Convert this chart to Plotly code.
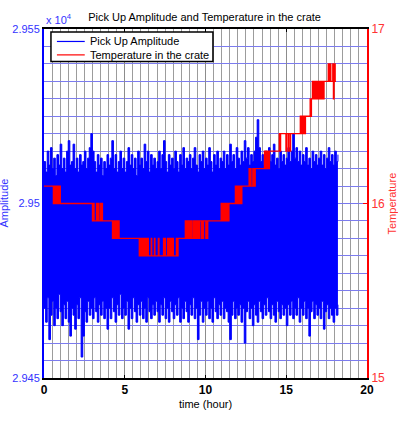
import numpy as np
import plotly.graph_objects as go

# ---------------- data ----------------
title_text = "Pick Up Amplitude and Temperature in the crate"
amp_name = "Pick Up Amplitude"
temp_name = "Temperature in the crate"

sample_step = 0.1  # hours between envelope samples
amp_hi = [
    29512, 29509, 29515, 29511, 29516, 29510, 29513, 29508, 29514, 29511,
    29517, 29510, 29513, 29509, 29515, 29518, 29511, 29512, 29517, 29510,
    29513, 29509, 29514, 29511, 29512, 29515, 29510, 29513, 29516, 29520,
    29515, 29512, 29509, 29514, 29511, 29513, 29508, 29512, 29510, 29514,
    29511, 29513, 29518, 29510, 29514, 29509, 29512, 29515, 29510, 29513,
    29509, 29512, 29516, 29511, 29514, 29510, 29513, 29508, 29515, 29511,
    29513, 29510, 29517, 29512, 29515, 29509, 29514, 29511, 29513, 29510,
    29512, 29515, 29510, 29514, 29518, 29512, 29509, 29514, 29511, 29513,
    29510, 29515, 29512, 29509, 29514, 29511, 29516, 29510, 29513, 29512,
    29514, 29510, 29513, 29516, 29511, 29509, 29514, 29512, 29515, 29510,
    29513, 29511, 29516, 29512, 29509, 29514, 29511, 29515, 29510, 29513,
    29512, 29515, 29510, 29514, 29511, 29517, 29512, 29514, 29510, 29516,
    29513, 29511, 29515, 29512, 29518, 29513, 29516, 29511, 29514, 29512,
    29515, 29519, 29524, 29516, 29512, 29514, 29511, 29515, 29513, 29516,
    29512, 29514, 29517, 29511, 29513, 29510, 29515, 29512, 29514, 29511,
    29513, 29516, 29512, 29515, 29520, 29513, 29516, 29512, 29515, 29511,
    29514, 29512, 29516, 29511, 29513, 29510, 29515, 29512, 29514, 29511,
    29513, 29515, 29511, 29514, 29510, 29513, 29516, 29512, 29514, 29511,
    29515, 29512, 29514,
]
amp_lo = [
    29470, 29466, 29473, 29461, 29468, 29472, 29465, 29470, 29467, 29474,
    29469, 29465, 29471, 29467, 29472, 29466, 29462, 29470, 29468, 29464,
    29471, 29467, 29473, 29456, 29462, 29469, 29466, 29472, 29468, 29470,
    29467, 29473, 29469, 29466, 29471, 29468, 29472, 29467, 29470, 29464,
    29470, 29467, 29473, 29469, 29466, 29471, 29468, 29474, 29467, 29470,
    29468, 29472, 29464, 29470, 29467, 29473, 29469, 29466, 29471, 29468,
    29472, 29467, 29470, 29466, 29473, 29469, 29467, 29471, 29468, 29472,
    29469, 29466, 29471, 29468, 29473, 29467, 29470, 29466, 29472, 29469,
    29467, 29471, 29468, 29473, 29466, 29470, 29467, 29472, 29469, 29466,
    29471, 29468, 29473, 29467, 29470, 29461, 29468, 29472, 29466, 29470,
    29468, 29472, 29467, 29470, 29466, 29473, 29469, 29467, 29471, 29468,
    29472, 29467, 29470, 29469, 29466, 29461, 29468, 29472, 29467, 29470,
    29468, 29471, 29466, 29470, 29460, 29469, 29472, 29467, 29470, 29465,
    29471, 29468, 29466, 29472, 29469, 29467, 29471, 29468, 29473, 29469,
    29467, 29471, 29468, 29466, 29472, 29469, 29467, 29471, 29468, 29470,
    29465, 29471, 29468, 29472, 29467, 29470, 29468, 29473, 29466, 29470,
    29468, 29472, 29467, 29470, 29462, 29469, 29472, 29467, 29471, 29468,
    29470, 29467, 29472, 29464, 29469, 29471, 29467, 29470, 29468, 29466,
    29470, 29468, 29471,
]

temp_t = [
    0.00, 0.58, 0.62, 0.66, 0.70, 0.74, 0.78, 0.83, 0.89, 0.93, 0.97, 1.01,
    3.00, 3.05, 3.10, 3.25, 3.30, 3.36, 3.40, 3.50, 3.55, 3.58, 3.62,
    4.24, 4.28, 4.32, 4.36, 4.40, 4.44, 4.48, 4.52, 4.56, 4.60, 4.65,
    5.90, 5.94, 5.98, 6.02, 6.06, 6.10, 6.14, 6.18, 6.22, 6.26, 6.30, 6.34,
    6.38, 6.42, 6.46, 6.64, 6.67, 6.84, 6.87, 7.08, 7.12, 7.40, 7.44, 7.48,
    7.52, 7.65, 7.69, 7.73, 7.77, 7.81, 7.85, 7.89, 7.93, 7.97, 8.01, 8.20,
    8.23, 8.30,
    8.75, 8.79, 8.86, 8.90, 8.94, 8.97, 9.05, 9.09, 9.13, 9.16, 9.25, 9.29,
    9.33, 9.37, 9.41, 9.45, 9.49, 9.53, 9.57, 9.61, 9.65, 9.76, 9.80, 9.84,
    9.88, 10.02, 10.06, 10.10, 10.14,
    10.97, 11.01, 11.05, 11.09, 11.13, 11.17, 11.21, 11.25, 11.29, 11.33,
    11.37, 11.41, 11.45,
    11.85, 11.89, 11.93, 11.97, 12.01, 12.05, 12.09, 12.13, 12.17, 12.21, 12.25,
    12.70, 12.74, 12.78, 12.82, 12.93, 12.97, 13.01, 13.05, 13.08,
    13.65, 13.69, 13.73, 13.77, 13.81, 13.85, 13.89, 13.93, 13.96,
    14.57, 14.61, 14.65, 14.98, 15.01, 15.11, 15.14, 15.23, 15.27,
    15.87, 15.91, 15.95, 15.99, 16.03, 16.07, 16.11, 16.15, 16.19,
    16.48, 16.52, 16.56, 16.62, 16.66, 16.72, 16.78, 16.82, 16.88, 16.92,
    16.98, 17.02, 17.08, 17.12, 17.18, 17.22, 17.30, 17.34,
    17.60, 17.64, 17.72, 17.76, 17.88, 17.92, 17.96, 18.03, 18.08,
]
temp_v = [
    16.1, 16.0, 16.1, 16.0, 16.1, 16.0, 16.1, 16.0, 16.1, 16.0, 16.1, 16.0,
    15.9, 16.0, 15.9, 16.0, 15.9, 16.0, 15.9, 16.0, 15.9, 16.0, 15.9,
    15.8, 15.9, 15.8, 15.9, 15.8, 15.9, 15.8, 15.9, 15.8, 15.9, 15.8,
    15.7, 15.8, 15.7, 15.8, 15.7, 15.8, 15.7, 15.8, 15.7, 15.8, 15.7, 15.8,
    15.7, 15.8, 15.7, 15.8, 15.7, 15.8, 15.7, 15.8, 15.7, 15.8, 15.7, 15.8,
    15.7, 15.8, 15.7, 15.8, 15.7, 15.8, 15.7, 15.8, 15.7, 15.8, 15.7, 15.8,
    15.7, 15.8,
    15.9, 15.8, 15.9, 15.8, 15.9, 15.8, 15.9, 15.8, 15.9, 15.8, 15.9, 15.8,
    15.9, 15.8, 15.9, 15.8, 15.9, 15.8, 15.9, 15.8, 15.9, 15.8, 15.9, 15.8,
    15.9, 15.8, 15.9, 15.8, 15.9,
    16.0, 15.9, 16.0, 15.9, 16.0, 15.9, 16.0, 15.9, 16.0, 15.9,
    16.0, 15.9, 16.0,
    16.1, 16.0, 16.1, 16.0, 16.1, 16.0, 16.1, 16.0, 16.1, 16.0, 16.1,
    16.2, 16.1, 16.2, 16.1, 16.2, 16.1, 16.2, 16.1, 16.2,
    16.3, 16.2, 16.3, 16.2, 16.3, 16.2, 16.3, 16.2, 16.3,
    16.4, 16.3, 16.4, 16.3, 16.4, 16.3, 16.4, 16.3, 16.4,
    16.5, 16.4, 16.5, 16.4, 16.5, 16.4, 16.5, 16.4, 16.5,
    16.6, 16.5, 16.6, 16.7, 16.6, 16.7, 16.6, 16.7, 16.6, 16.7,
    16.6, 16.7, 16.6, 16.7, 16.6, 16.7, 16.6, 16.7,
    16.8, 16.7, 16.8, 16.7, 16.8, 16.6, 16.8, 16.7, 16.7,
]

x_tickvals = [0, 5, 10, 15, 20]
amp_tickvals = [29450, 29500, 29550]
amp_ticktext = ["2.945", "2.95", "2.955"]
temp_tickvals = [15, 16, 17]

# ---------------- build ----------------
amp_t = np.arange(len(amp_hi)) * sample_step

fig = go.Figure()
# lower envelope of the amplitude signal
fig.add_trace(go.Scatter(x=amp_t, y=amp_lo, mode="lines", name=amp_name,
                         line=dict(color="#0000ff", width=1, shape="hv",
                                   simplify=False),
                         yaxis="y", showlegend=False))
# upper envelope, filled down to the lower one
fig.add_trace(go.Scatter(x=amp_t, y=amp_hi, mode="lines", name=amp_name,
                         line=dict(color="#0000ff", width=1, shape="hv",
                                   simplify=False),
                         fill="tonexty", fillcolor="#0000ff",
                         yaxis="y", showlegend=False))
fig.add_trace(go.Scatter(x=temp_t, y=temp_v, mode="lines", name=temp_name,
                         line=dict(color="#ff0000", width=1.3, shape="hv",
                                   simplify=False),
                         yaxis="y2", showlegend=False))

# plot-area geometry (pixels) used to place the hand-drawn legend box
L, R, T, B = 42, 367, 29, 393


def px(xp):
    return (xp - L) / (R - L)


def py(yp):
    return (B - yp) / (B - T)


FONT = "Liberation Sans, Arial, sans-serif"
fig.update_layout(
    width=398, height=421,
    margin=dict(l=L, r=398 - R, t=T, b=421 - B),
    paper_bgcolor="white", plot_bgcolor="white",
    font=dict(family=FONT, size=11, color="black"),
    title=dict(text=title_text, x=0.514, xanchor="center",
               y=1 - 17 / 421, yanchor="middle", yref="container",
               font=dict(size=11, color="black")),
    showlegend=False,
    xaxis=dict(range=[0, 20], tickvals=x_tickvals, ticks="inside", ticklen=3,
               tickcolor="black", showline=True, linecolor="black",
               linewidth=2, mirror="ticks", showgrid=True,
               gridcolor="#8c8c8c", gridwidth=1, zeroline=False,
               tickfont=dict(size=12, color="black", weight="bold"),
               minor=dict(dtick=0.5, showgrid=True, gridcolor="#9c9c9c"),
               title=dict(text="time (hour)", font=dict(size=11), standoff=4)),
    yaxis=dict(range=[29450, 29550], tickvals=amp_tickvals,
               ticktext=amp_ticktext, ticks="", showgrid=False,
               zeroline=False, showline=True, linecolor="#0000ff",
               linewidth=2, tickfont=dict(size=11, color="#3333ff")),
    yaxis2=dict(range=[15, 17], tickvals=temp_tickvals, overlaying="y",
                side="right", ticks="inside", ticklen=4, tickcolor="red",
                showline=True, linecolor="#ff0000", linewidth=2,
                zeroline=False, showgrid=True, gridcolor="#7878ee",
                gridwidth=1, tickfont=dict(size=12, color="#ff3333"),
                minor=dict(dtick=0.1, showgrid=True, gridcolor="#7c7cee")),
)

# legend (drawn by hand to match the compact box of the original)
fig.add_shape(type="rect", xref="paper", yref="paper",
              x0=px(49), x1=px(212), y0=py(63), y1=py(32),
              line=dict(color="black", width=1.5), fillcolor="white",
              layer="above")
for yrow, name, col in [(42, amp_name, "#0000ff"), (56, temp_name, "#ff0000")]:
    fig.add_shape(type="line", xref="paper", yref="paper",
                  x0=px(55), x1=px(83), y0=py(yrow), y1=py(yrow),
                  line=dict(color=col, width=1.2), layer="above")
    fig.add_annotation(text=name, xref="paper", yref="paper",
                       x=px(86), y=py(yrow), xanchor="left", yanchor="middle",
                       showarrow=False, font=dict(size=11, color="black"))

fig.add_annotation(text="x 10<sup>4</sup>", xref="paper", yref="paper",
                   x=0, y=1, xanchor="left", yanchor="bottom", yshift=1,
                   showarrow=False, font=dict(size=11, color="#3333ff"))
fig.add_annotation(text="Amplitude", xref="paper", yref="paper",
                   x=0, y=0.5, xanchor="center", yanchor="middle",
                   xshift=-41, textangle=-90, showarrow=False,
                   font=dict(size=11, color="#3333ff"))
fig.add_annotation(text="Temperature", xref="paper", yref="paper",
                   x=1, y=0.5, xanchor="center", yanchor="middle",
                   xshift=24, textangle=-90, showarrow=False,
                   font=dict(size=11, color="#ff3333"))

fig.write_html("out.html")
